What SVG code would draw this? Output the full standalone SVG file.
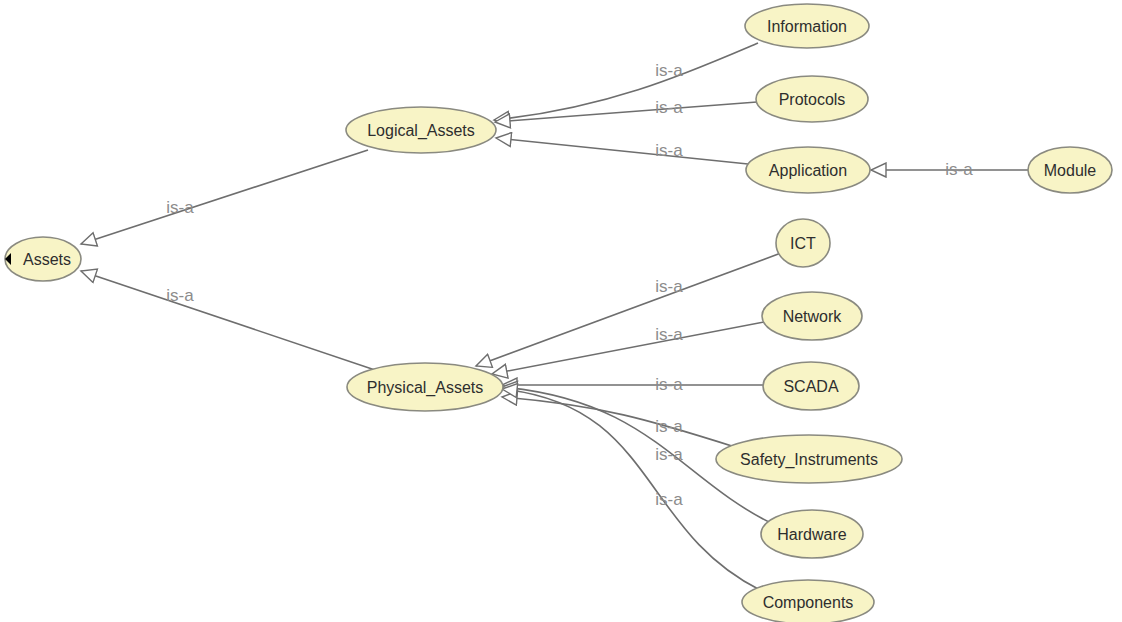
<svg xmlns="http://www.w3.org/2000/svg" width="1122" height="622" viewBox="0 0 1122 622">
  <style>
    .node ellipse { fill: #f8f4c6; stroke: #8a8a80; stroke-width: 1.6; }
    .node text { font-family: "Liberation Sans", Arial, sans-serif; font-size: 16px; fill: #2e2e2e; text-anchor: middle; dominant-baseline: central; }
    .edge { fill: none; stroke: #6e6e6e; stroke-width: 1.6; marker-end: url(#isa); }
    .lbl { font-family: "Liberation Sans", Arial, sans-serif; font-size: 17px; fill: #8c8c8c; text-anchor: middle; dominant-baseline: central; }
  </style>
  <defs>
    <marker id="isa" markerUnits="userSpaceOnUse" markerWidth="18" markerHeight="16" viewBox="-1 -1 18 16" refX="15" refY="7" orient="auto">
      <path d="M0,0 L15,7 L0,14 Z" fill="#ffffff" stroke="#6e6e6e" stroke-width="1.4"/>
    </marker>
  </defs>
  <rect width="1122" height="622" fill="#ffffff"/>

  <!-- subclass connectors -->
  <g id="connectors">
    <path class="edge" d="M368,150 L81,244"/>
    <path class="edge" d="M375,370 L81,271"/>
    <path class="edge" d="M758,43 C690,72 610,108 494,120"/>
    <path class="edge" d="M757,102 L495,122"/>
    <path class="edge" d="M748,164 L496,138"/>
    <path class="edge" d="M1028,170 L871,170"/>
    <path class="edge" d="M781,253 L476,366"/>
    <path class="edge" d="M764,322 L492,374"/>
    <path class="edge" d="M763,385 L502,385"/>
    <path class="edge" d="M735,447 C650,420 600,405 502,397"/>
    <path class="edge" d="M775,525 C680,480 650,400 502,387"/>
    <path class="edge" d="M760,590 C640,530 655,405 502,389"/>
  </g>

  <!-- connector labels -->
  <g id="labels">
    <text class="lbl" x="180" y="207">is-a</text>
    <text class="lbl" x="180" y="295">is-a</text>
    <text class="lbl" x="669" y="70">is-a</text>
    <text class="lbl" x="669" y="107">is-a</text>
    <text class="lbl" x="669" y="150">is-a</text>
    <text class="lbl" x="959" y="169">is-a</text>
    <text class="lbl" x="669" y="286">is-a</text>
    <text class="lbl" x="669" y="334">is-a</text>
    <text class="lbl" x="669" y="384">is-a</text>
    <text class="lbl" x="669" y="426">is-a</text>
    <text class="lbl" x="669" y="454">is-a</text>
    <text class="lbl" x="669" y="499">is-a</text>
  </g>

  <!-- class nodes -->
  <g id="Assets" class="node">
    <ellipse cx="43" cy="259" rx="38" ry="22"/>
    <path d="M5,259 L11,253 L11,265 Z" fill="#000000"/>
    <text x="47" y="259">Assets</text>
  </g>
  <g id="Logical_Assets" class="node">
    <ellipse cx="421" cy="130" rx="75" ry="23"/>
    <text x="421" y="130">Logical_Assets</text>
  </g>
  <g id="Physical_Assets" class="node">
    <ellipse cx="425" cy="387" rx="78" ry="24"/>
    <text x="425" y="387">Physical_Assets</text>
  </g>
  <g id="Information" class="node">
    <ellipse cx="807" cy="26" rx="62" ry="22"/>
    <text x="807" y="26">Information</text>
  </g>
  <g id="Protocols" class="node">
    <ellipse cx="812" cy="99" rx="56" ry="23"/>
    <text x="812" y="99">Protocols</text>
  </g>
  <g id="Application" class="node">
    <ellipse cx="808" cy="170" rx="62" ry="23"/>
    <text x="808" y="170">Application</text>
  </g>
  <g id="Module" class="node">
    <ellipse cx="1070" cy="170" rx="42" ry="23"/>
    <text x="1070" y="170">Module</text>
  </g>
  <g id="ICT" class="node">
    <ellipse cx="803" cy="243" rx="27" ry="24"/>
    <text x="803" y="243">ICT</text>
  </g>
  <g id="Network" class="node">
    <ellipse cx="812" cy="316" rx="50" ry="24"/>
    <text x="812" y="316">Network</text>
  </g>
  <g id="SCADA" class="node">
    <ellipse cx="811" cy="386" rx="48" ry="24"/>
    <text x="811" y="386">SCADA</text>
  </g>
  <g id="Safety_Instruments" class="node">
    <ellipse cx="809" cy="459" rx="93" ry="24"/>
    <text x="809" y="459">Safety_Instruments</text>
  </g>
  <g id="Hardware" class="node">
    <ellipse cx="812" cy="534" rx="51" ry="24"/>
    <text x="812" y="534">Hardware</text>
  </g>
  <g id="Components" class="node">
    <ellipse cx="808" cy="602" rx="66" ry="22"/>
    <text x="808" y="602">Components</text>
  </g>
</svg>
